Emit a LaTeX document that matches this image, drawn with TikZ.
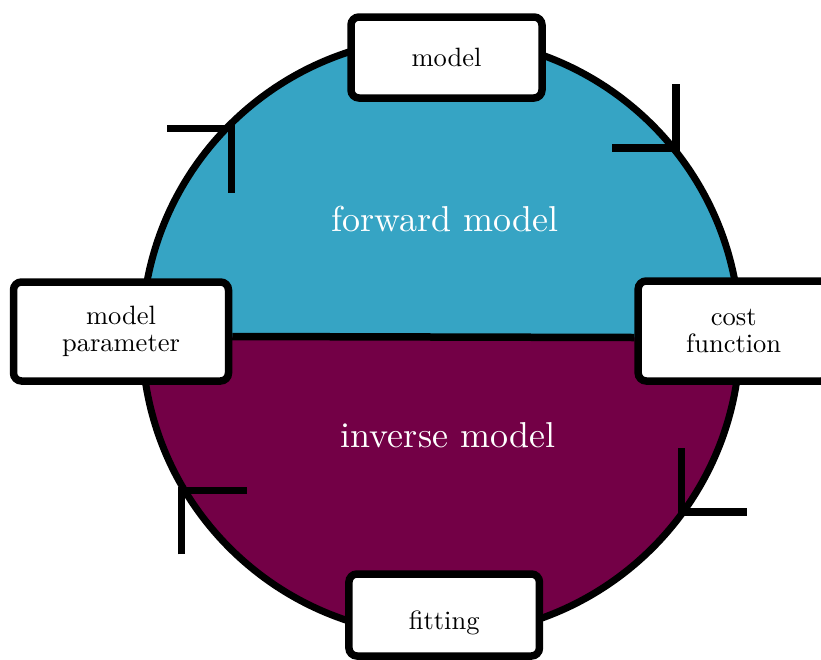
\documentclass[tikz,border=0pt]{standalone}
\usepackage{fontspec}
\setmainfont{lmroman10-regular}[Extension=.otf]
\definecolor{fwdcol}{RGB}{54,164,196}
\definecolor{invcol}{RGB}{115,0,70}
\begin{document}
\begin{tikzpicture}[x=1pt,y=-1pt,
  box/.style={draw=black, fill=white, line width=7.5pt, rounded corners=8pt,
    font=\fontsize{26.5}{27}\selectfont, align=center, inner sep=0pt},
  arrmark/.style={line width=7.5pt, line cap=butt},
  big/.style={text=white, font=\fontsize{36}{40}\selectfont, anchor=base}]
\useasboundingbox (0,0) rectangle (821,659);
\coordinate (c) at (441,336.5);
\fill[fwdcol] (c) circle[radius=299];
\begin{scope}
  \clip (100,336.5) -- (800,337.6) -- (800,700) -- (100,700) -- cycle;
  \fill[invcol] (c) circle[radius=299];
\end{scope}
\draw[line width=7pt] (c) circle[radius=299];

\node[big] (fwd) at (445,231.5) {forward model};
\node[big] (inv) at (448,447.5) {inverse model};

\node[box, minimum width=215pt, minimum height=99pt] (param) at (121,331.5) {model\\parameter};
\node[box, minimum width=191pt, minimum height=100pt] (cost) at (733.7,331) {cost\\function};
\draw[line width=7.5pt] ([yshift=-5pt]param.east) -- ([yshift=-6.5pt]cost.west);
\node[box, minimum width=191pt, minimum height=81pt] (model) at (446.5,57.5) {model};
\node[box, minimum width=190.5pt, minimum height=82pt, text height=30pt, text depth=1.4pt] (fit) at (444.2,615) {fitting};

% arrow marks
\coordinate (a1) at (231.7,128.7);
\draw[arrmark] (167.3,128.7) -- (a1) -- (231.7,192.7);
\coordinate (a2) at (676.2,148);
\draw[arrmark] (676.2,84) -- (a2) -- (612,148);
\coordinate (a3) at (681.7,512.2);
\draw[arrmark] (681.7,448.3) -- (a3) -- (746.7,512.2);
\coordinate (a4) at (181.7,490.5);
\draw[arrmark] (181.7,554.3) -- (a4) -- (246.7,490.5);
\end{tikzpicture}
\end{document}
